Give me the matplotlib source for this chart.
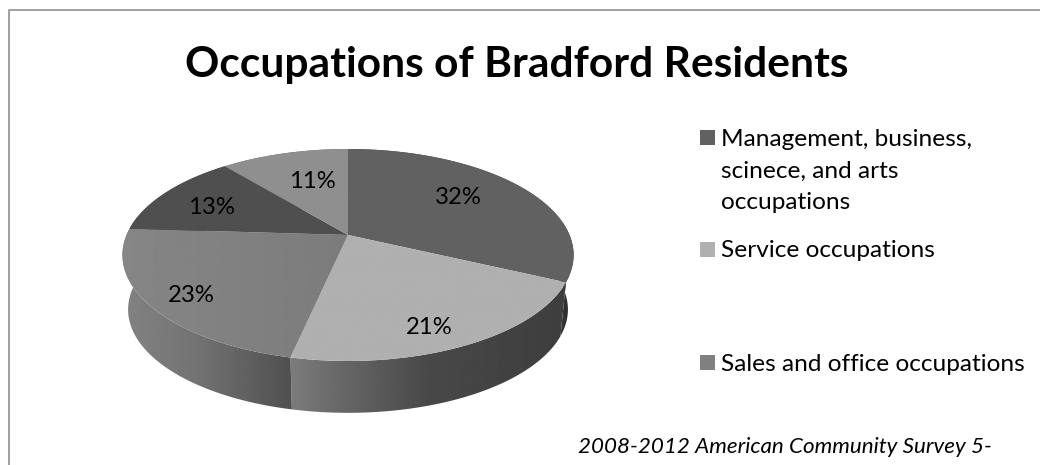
import numpy as np
import matplotlib
matplotlib.use("Agg")
import matplotlib.pyplot as plt
from matplotlib.patches import Polygon, Rectangle

title = "Occupations of Bradford Residents"
shares = [32.0, 21.4, 22.6, 13.0, 11.0]
legend_labels = ["Management, business,\nscinece, and arts\noccupations",
                 "Service occupations",
                 "Sales and office occupations"]
source = "2008-2012 American Community Survey 5-"

# layout is in reference pixels
W, H = 1040, 465
cx, cy = 348, 235
rx, ry = 221.5, 102.2
persp = 0.1887
drop, shrink = 55, 0.975

# (x, grey) stops for each slice
top_stops = [[(0, 0x61), (1040, 0x61)],
             [(0, 0xb0), (1040, 0xb0)],
             [(120, 0x86), (340, 0x7c)],
             [(0, 0x4f), (1040, 0x4f)],
             [(0, 0x8f), (1040, 0x8f)]]
wall_stops = [[(555, 0x44), (573, 0x22)],
              [(291, 0x7c), (340, 0x68), (430, 0x48), (560, 0x3e)],
              [(125, 0x82), (200, 0x72), (291, 0x50)],
              [(0, 0x44), (1040, 0x44)],
              [(0, 0x66), (1040, 0x66)]]
label_xy = [(458, 197), (429, 327), (191, 295), (211, 207), (312, 181)]
legend_y = [171, 250, 364]
legend_box_y = [137.5, 249.5, 362.5]
legend_colors = ["#616161", "#b0b0b0", "#808080"]


def project(theta, lower=False):
    # theta in degrees clockwise from 12 o'clock
    t = np.radians(theta)
    u, v = np.sin(t), np.cos(t)
    s = 1.0 / (1.0 + persp * v)
    x = rx * u * s
    y = -ry * v * s
    if lower:
        return cx + shrink * x, cy + drop + shrink * y
    return cx + x, cy + y


def gradient_fill(ax, xs, ys, stops, z):
    poly = Polygon(np.column_stack([xs, ys]), closed=True, transform=ax.transData,
                   facecolor="none", edgecolor="none")
    ax.add_patch(poly)
    px = np.arange(0, W + 1)
    grey = np.interp(px, [p[0] for p in stops], [p[1] for p in stops]) / 255.0
    im = ax.imshow(grey[np.newaxis, :], cmap="gray", vmin=0, vmax=1, aspect="auto",
                   extent=(0, W, H, 0), zorder=z, interpolation="bilinear")
    im.set_clip_path(poly)


plt.rcParams["font.family"] = ["Lato", "DejaVu Sans"]
fig = plt.figure(figsize=(W / 100, H / 100), dpi=100, facecolor="white")
ax = fig.add_axes([0, 0, 1, 1])

edges = np.cumsum([0] + shares) / np.sum(shares) * 360.0

for i in range(len(shares)):
    th = np.linspace(edges[i], edges[i + 1], 120)
    x1, y1 = project(th)
    x2, y2 = project(th[::-1], lower=True)
    gradient_fill(ax, np.r_[x1, x2], np.r_[y1, y2], wall_stops[i], 1 + i * 0.01)

for i in range(len(shares)):
    th = np.linspace(edges[i], edges[i + 1], 120)
    x1, y1 = project(th)
    gradient_fill(ax, np.r_[cx, x1], np.r_[cy, y1], top_stops[i], 2 + i * 0.01)

for val, (x, y) in zip(shares, label_xy):
    ax.text(x, y, f"{val:.0f}%", fontsize=17.2, ha="center", va="center", color="black", zorder=5)

ax.text(517, 65, title, fontsize=30.6, fontweight="bold", ha="center", va="center")

for lab, y, by, col in zip(legend_labels, legend_y, legend_box_y, legend_colors):
    ax.add_patch(Rectangle((700, by - 7.5), 15, 15, facecolor=col, edgecolor="none"))
    ax.text(721, y, lab, fontsize=17.6, ha="left", va="center", linespacing=1.62)

ax.text(578, 447, source, fontsize=16.1, style="italic", ha="left", va="center")

# chart frame, only the left and top edges fall inside the crop
ax.plot([8.5, 8.5, W], [H, 10.5, 10.5], color="#a0a0a0", lw=1.4)

ax.set_xlim(0, W)
ax.set_ylim(H, 0)
ax.axis("off")
fig.savefig("out.png", dpi=100, facecolor="white")
